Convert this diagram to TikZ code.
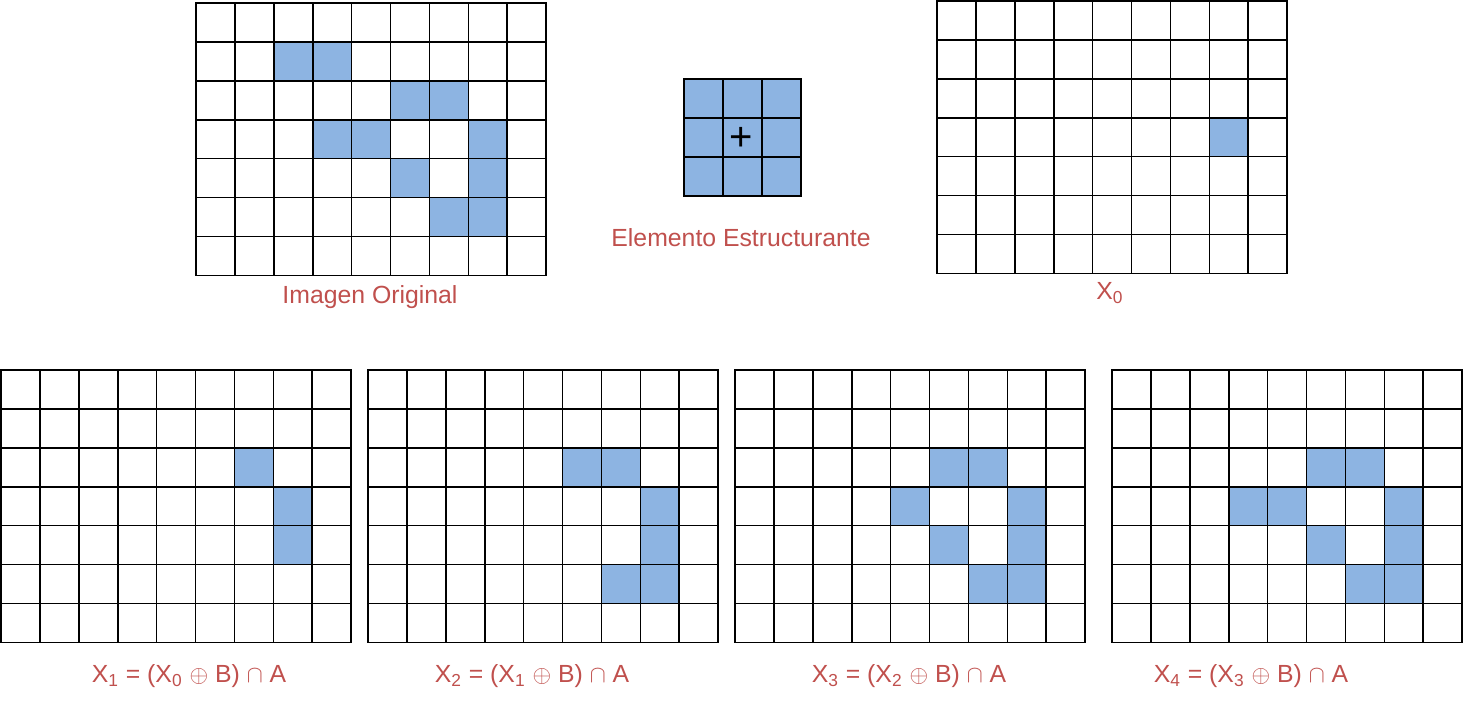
\documentclass[tikz,border=0pt]{standalone}
\usepackage{fontspec}
\setmainfont{Liberation Sans}
\usetikzlibrary{positioning}
\definecolor{cellblue}{RGB}{141,180,226}
\definecolor{labelred}{RGB}{192,80,77}

% grid at (x,y) in px, #3 columns, #4 rows, #5 filled cells col/row
\newcommand{\pixgrid}[5]{%
  \begin{scope}[shift={(#1,#2)}, x=19.45pt, y=-19.45pt]
    \foreach \c/\r in {#5}
      \fill[cell] (\c,\r) rectangle ++(1,1);
    \foreach \i in {0,...,#3}
      \draw[gridline] (\i,0) -- (\i,#4);
    \foreach \j in {0,...,#4}
      \draw[gridline] (0,\j) -- (#3,\j);
  \end{scope}}

\begin{document}
\begin{tikzpicture}[x=0.5pt, y=-0.5pt,
  cell/.style={fill=cellblue},
  gridline/.style={draw=black, line width=0.8pt, line cap=rect},
  caption/.style={text=labelred, font=\fontsize{12.4}{14}\selectfont, inner sep=0pt}
]
  \useasboundingbox (0,0) rectangle (1463,703);

  % top row
  \pixgrid{196}{3}{9}{7}{2/1,3/1,5/2,6/2,3/3,4/3,7/3,5/4,7/4,6/5,7/5}
  \node[caption] (lblA) at (370,297) {Imagen Original};

  \pixgrid{684}{79}{3}{3}{0/0,1/0,2/0,0/1,1/1,2/1,0/2,1/2,2/2}
  \node[font=\fontsize{20}{20}\selectfont, inner sep=0pt] (origin) at (741,139) {+};
  \node[caption] (lblB) at (741,238) {Elemento Estructurante};

  \pixgrid{937}{1}{9}{7}{7/3}
  \node[caption] (lblX0) at (1110,293) {X\textsubscript{0}};

  % bottom row
  \pixgrid{1}{370}{9}{7}{6/2,7/3,7/4}
  \node[caption] (lblX1) at (189,676) {X\textsubscript{1} = (X\textsubscript{0} {\large$\oplus$} B) $\cap$ A};

  \pixgrid{368}{370}{9}{7}{5/2,6/2,7/3,7/4,6/5,7/5}
  \node[caption] (lblX2) at (532,676) {X\textsubscript{2} = (X\textsubscript{1} {\large$\oplus$} B) $\cap$ A};

  \pixgrid{735}{370}{9}{7}{5/2,6/2,4/3,7/3,5/4,7/4,6/5,7/5}
  \node[caption] (lblX3) at (909,676) {X\textsubscript{3} = (X\textsubscript{2} {\large$\oplus$} B) $\cap$ A};

  \pixgrid{1112}{370}{9}{7}{5/2,6/2,3/3,4/3,7/3,5/4,7/4,6/5,7/5}
  \node[caption] (lblX4) at (1251,676) {X\textsubscript{4} = (X\textsubscript{3} {\large$\oplus$} B) $\cap$ A};
\end{tikzpicture}
\end{document}
